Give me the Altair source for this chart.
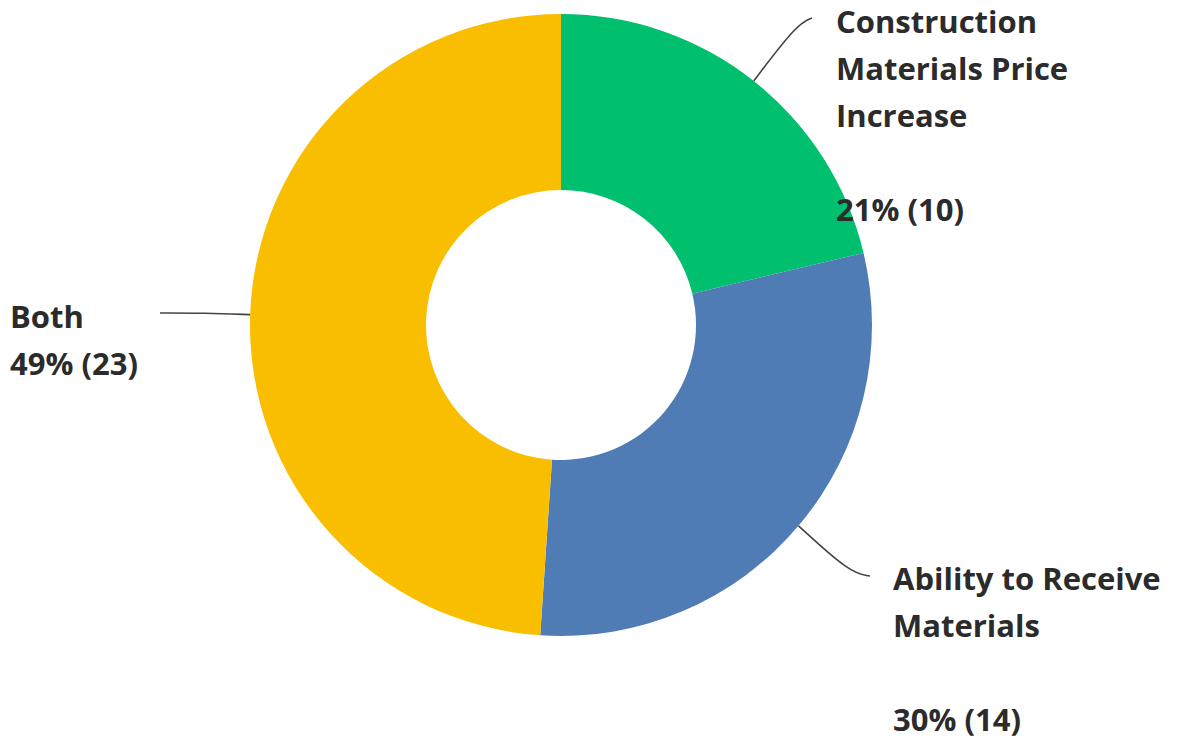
import math
import altair as alt
import pandas as pd

# ---- data ----
categories = ["Construction Materials Price Increase", "Ability to Receive Materials", "Both"]
counts = [10, 14, 23]
name_lines = [
    ["Construction", "Materials Price", "Increase"],
    ["Ability to Receive", "Materials"],
    ["Both"],
]
value_labels = ["21% (10)", "30% (14)", "49% (23)"]
colors = ["#00BF6F", "#507CB6", "#F9BE00"]

W, H = 1179, 740
CX, CY = 561, 325
R_OUT, R_IN = 311, 135
LINE_H = 47

df = pd.DataFrame({"cat": categories, "count": counts, "idx": [0, 1, 2]})

arc = alt.Chart(df).mark_arc(radius=R_OUT, radius2=R_IN).encode(
    theta=alt.Theta("count:Q", stack=True),
    order=alt.Order("idx:Q"),
    color=alt.Color("cat:N", scale=alt.Scale(domain=categories, range=colors), legend=None),
    x=alt.value(CX),
    y=alt.value(CY),
)

# leader lines: start at each slice's mid-angle on the outer edge
total = sum(counts)
cum = 0
mids = []
for c in counts:
    mids.append((cum + c / 2) / total * 2 * math.pi)
    cum += c

def edge_pt(a, r=R_OUT):
    return CX + r * math.sin(a), CY - r * math.cos(a)

xs = alt.Scale(domain=[0, W], range=[0, W])
ys = alt.Scale(domain=[0, H], range=[0, H])

leader_ends = [
    [(797, 24), (812, 18)],
    [(850, 573), (870, 576)],
    [(205, 313), (160, 313)],
]
line_layers = []
for i, a in enumerate(mids):
    sx, sy = edge_pt(a)
    pts = [(sx, sy)] + leader_ends[i]
    ldf = pd.DataFrame({"px": [p[0] for p in pts], "py": [p[1] for p in pts], "o": range(len(pts))})
    line_layers.append(
        alt.Chart(ldf).mark_line(color="#444444", strokeWidth=1.6, interpolate="basis").encode(
            x=alt.X("px:Q", scale=xs, axis=None),
            y=alt.Y("py:Q", scale=ys, axis=None),
            order="o:Q",
        )
    )

# label anchor (first baseline) and line offset of the value label
label_pos = [(836, 33), (893, 590), (10, 328)]
value_offset = [4, 3, 1]
text_style = dict(align="left", baseline="alphabetic", font="Open Sans", fontSize=31,
                  fontWeight=700, color="#2b2b2b", lineBreak="\n", lineHeight=LINE_H)
text_layers = []
for i, lines in enumerate(name_lines):
    lx, ly = label_pos[i]
    ndf = pd.DataFrame({"t": ["\n".join(lines)]})
    text_layers.append(
        alt.Chart(ndf).mark_text(**text_style).encode(text="t:N", x=alt.value(lx), y=alt.value(ly))
    )
    vdf = pd.DataFrame({"t": [value_labels[i]]})
    text_layers.append(
        alt.Chart(vdf).mark_text(**text_style).encode(
            text="t:N", x=alt.value(lx), y=alt.value(ly + value_offset[i] * LINE_H)
        )
    )

chart = alt.layer(arc, *line_layers, *text_layers).properties(
    width=W, height=H, padding=0, autosize=alt.AutoSizeParams(type="none"),
    background="white",
).configure_view(stroke=None)

chart.save("out.html", embed_options={"renderer": "svg", "actions": False})
